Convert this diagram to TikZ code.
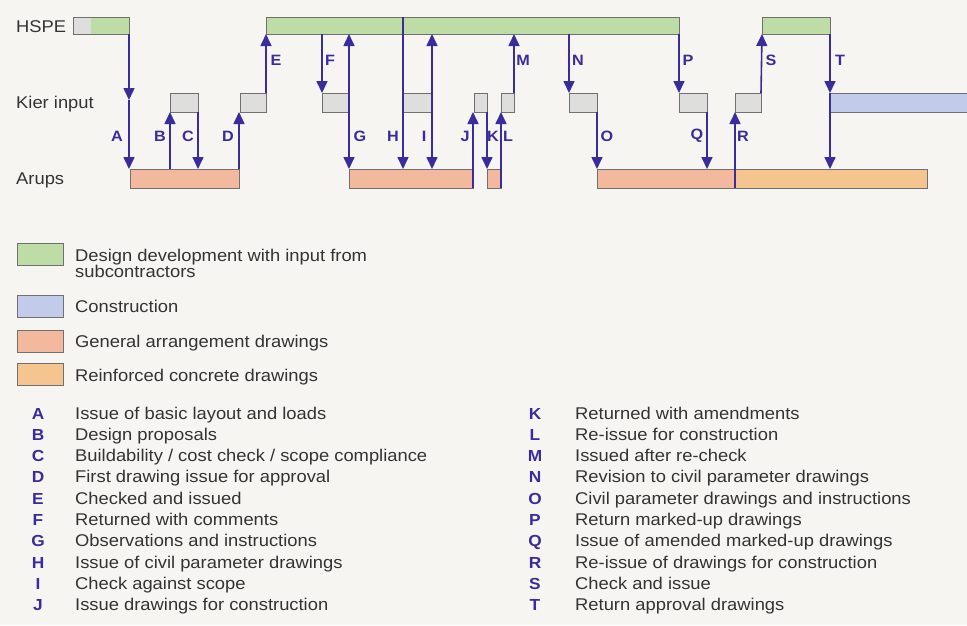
\documentclass[tikz,border=0pt]{standalone}
\usepackage{fontspec}
\setmainfont{Liberation Sans}[FakeStretch=1.08]
\usetikzlibrary{arrows.meta}
\definecolor{bgc}{HTML}{F6F5F1}
\definecolor{outl}{HTML}{707070}
\definecolor{gr}{HTML}{BEDCA6}
\definecolor{kg}{HTML}{DEDEDC}
\definecolor{bl}{HTML}{C2CCEA}
\definecolor{pk}{HTML}{F2B99E}
\definecolor{og}{HTML}{F4C58F}
\definecolor{arc}{HTML}{3A2C9C}
\definecolor{txt}{HTML}{333333}
\begin{document}
\begin{tikzpicture}[x=1pt,y=-1pt,
  bar/.style={draw=outl, line width=0.9pt, inner sep=0pt, outer sep=0pt, anchor=north west},
  hbar/.style={bar, fill=gr, minimum height=17pt},
  kbar/.style={bar, fill=kg, minimum height=19pt},
  abar/.style={bar, fill=pk, minimum height=19pt},
  rbar/.style={bar, fill=og, minimum height=19pt},
  cbar/.style={bar, fill=bl, minimum height=19pt},
  lgbox/.style={bar, minimum width=46pt, minimum height=22pt},
  arr/.style={draw=arc, line width=1.6pt, -{Triangle[width=11pt,length=12pt]}},
  darr/.style={draw=arc, line width=1.6pt, {Triangle[width=11pt,length=12pt]}-{Triangle[width=11pt,length=12pt]}},
  lbl/.style={text=arc, font=\bfseries\fontsize{15}{15}\selectfont, inner sep=0pt},
  rowlbl/.style={text=txt, font=\fontsize{17}{17}\selectfont, anchor=west, inner sep=0pt},
  ltxt/.style={text=txt, font=\fontsize{17}{17}\selectfont, anchor=base west, inner sep=0pt},
  lkey/.style={text=arc, font=\bfseries\fontsize{16}{16}\selectfont, anchor=base, inner sep=0pt}
]
\useasboundingbox (0,0) rectangle (967,625);
\fill[bgc] (0,0) rectangle (967,625);

% row labels
\node[rowlbl] (rHSPE) at (16,27) {HSPE};
\node[rowlbl] (rKier) at (16,104) {Kier input};
\node[rowlbl] (rArups) at (16,180) {Arups};

% HSPE bars
\node[hbar, minimum width=56pt, path picture={\fill[kg] (path picture bounding box.north west) rectangle ([xshift=18pt]path picture bounding box.south west);}] (h1) at (73,17) {};
\node[hbar, minimum width=413pt] (h2) at (266,17) {};
\node[hbar, minimum width=68pt] (h3) at (762,17) {};

% Kier bars
\node[kbar, minimum width=28pt] (k1) at (170,93) {};
\node[kbar, minimum width=26pt] (k2) at (240,93) {};
\node[kbar, minimum width=27pt] (k3) at (322,93) {};
\node[kbar, minimum width=29pt] (k4) at (403,93) {};
\node[kbar, minimum width=13pt] (k5) at (474,93) {};
\node[kbar, minimum width=13pt] (k6) at (501,93) {};
\node[kbar, minimum width=28pt] (k7) at (569,93) {};
\node[kbar, minimum width=28pt] (k8) at (679,93) {};
\node[kbar, minimum width=26pt] (k9) at (735,93) {};
\node[cbar, minimum width=145pt] (con) at (830,93) {};

% Arups bars
\node[abar, minimum width=109pt] (a1) at (130,169) {};
\node[abar, minimum width=124pt] (a2) at (349,169) {};
\node[abar, minimum width=14pt] (a3) at (487,169) {};
\node[abar, minimum width=138pt] (a4) at (597,169) {};
\node[rbar, minimum width=192pt] (rc) at (735,169) {};

% connectors
\coordinate (mA) at ([yshift=-66pt]h1.south east);
\draw[arr] (h1.south east) -- (mA);
\draw[arr] (mA) -- (h1.south east |- a1.north);
\draw[arr] (k1.south west |- a1.north) -- (k1.south west);
\draw[arr] (k1.south east) -- (k1.south east |- a1.north);
\draw[arr] (a1.north east) -- (a1.north east |- k2.south);
\draw[arr] (k2.north east) -- (k2.north east |- h2.south);
\draw[arr] (k3.north west |- h2.south) -- (k3.north west);
\draw[darr] (a2.north west) -- (a2.north west |- h2.south);
\draw[arr] (k4.north west |- h2.north) -- (k4.north west |- a2.north);
\draw[darr] (k4.north east |- a2.north) -- (k4.north east |- h2.south);
\draw[arr] (a2.south east) -- (a2.south east |- k5.south);
\draw[arr] (k5.south east) -- (a3.north west);
\draw[arr] (a3.south east) -- (a3.south east |- k6.south);
\draw[arr] (k6.north east) -- (k6.north east |- h2.south);
\draw[arr] (k7.north west |- h2.south) -- (k7.north west);
\draw[arr] (k7.south east) -- (a4.north west);
\draw[arr] (h2.south east) -- (k8.north west);
\draw[arr] (k8.south east) -- (k8.south east |- a4.north);
\draw[arr] (a4.south east) -- (k9.south west);
\draw[arr] (k9.north east) -- (h3.south west);
\draw[arr] (h3.south east) -- (con.north west);
\draw[arr] (con.north west) -- (con.north west |- rc.north);

% connector labels
\node[lbl] (lA) at (117,136) {A};
\node[lbl] (lB) at (160,136) {B};
\node[lbl] (lC) at (188,136) {C};
\node[lbl] (lD) at (228,136) {D};
\node[lbl] (lE) at (276,60) {E};
\node[lbl] (lF) at (330,60) {F};
\node[lbl] (lG) at (360,136) {G};
\node[lbl] (lH) at (393,136) {H};
\node[lbl] (lI) at (424,136) {I};
\node[lbl] (lJ) at (465,136) {J};
\node[lbl] (lK) at (493,136) {K};
\node[lbl] (lL) at (508,136) {L};
\node[lbl] (lM) at (523,60) {M};
\node[lbl] (lN) at (578,60) {N};
\node[lbl] (lO) at (607,136) {O};
\node[lbl] (lP) at (688,60) {P};
\node[lbl] (lQ) at (697,136) {Q};
\node[lbl] (lR) at (743,136) {R};
\node[lbl] (lS) at (771,60) {S};
\node[lbl] (lT) at (840,60) {T};

% legend boxes
\node[lgbox, fill=gr] (g1) at (17,243) {};
\node[lgbox, fill=bl] (g2) at (17,295) {};
\node[lgbox, fill=pk] (g3) at (17,330) {};
\node[lgbox, fill=og] (g4) at (17,363) {};
\node[ltxt, align=left, font=\fontsize{17}{16.5}\selectfont] (t1) at (75,277.5) {Design development with input from\\subcontractors};
\node[ltxt] (t2) at (75,312) {Construction};
\node[ltxt] (t3) at (75,347) {General arrangement drawings};
\node[ltxt] (t4) at (75,381) {Reinforced concrete drawings};

% key list
\foreach \k/\t [count=\i from 0] in {A/{Issue of basic layout and loads}, B/{Design proposals}, C/{Buildability / cost check / scope compliance}, D/{First drawing issue for approval}, E/{Checked and issued}, F/{Returned with comments}, G/{Observations and instructions}, H/{Issue of civil parameter drawings}, I/{Check against scope}, J/{Issue drawings for construction}}{
  \node[lkey] (kl\k) at (38,419+21.3*\i) {\k};
  \node[ltxt] (kt\k) at (75,419+21.3*\i) {\t};
}
\foreach \k/\t [count=\i from 0] in {K/{Returned with amendments}, L/{Re-issue for construction}, M/{Issued after re-check}, N/{Revision to civil parameter drawings}, O/{Civil parameter drawings and instructions}, P/{Return marked-up drawings}, Q/{Issue of amended marked-up drawings}, R/{Re-issue of drawings for construction}, S/{Check and issue}, T/{Return approval drawings}}{
  \node[lkey] (kl\k) at (535,419+21.3*\i) {\k};
  \node[ltxt] (kt\k) at (575,419+21.3*\i) {\t};
}
\end{tikzpicture}
\end{document}
